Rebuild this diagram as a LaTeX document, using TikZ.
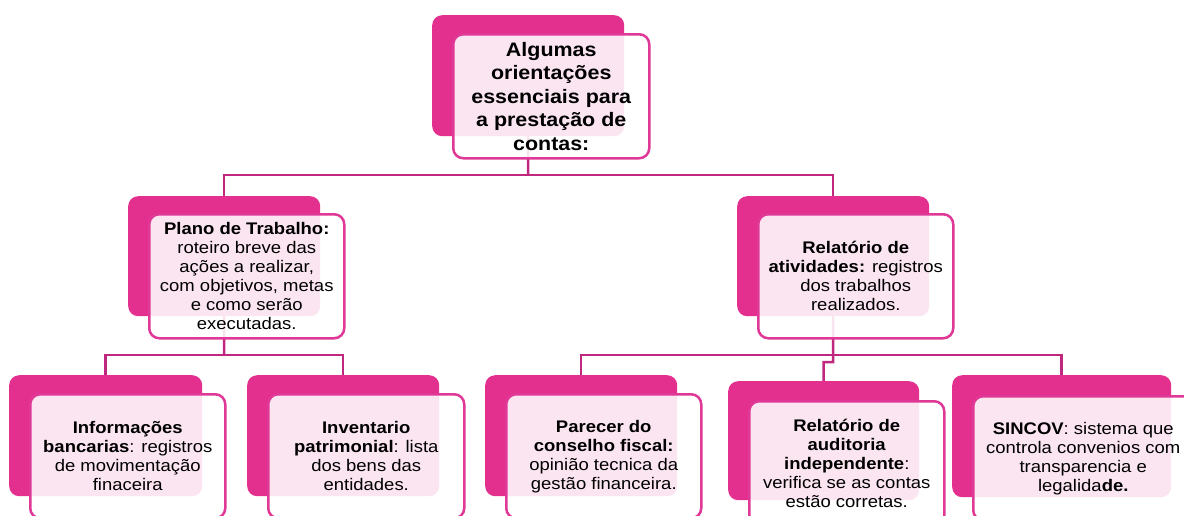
\documentclass[tikz,border=0pt]{standalone}
\usepackage{fontspec}
\setmainfont[FakeStretch=1.1]{Liberation Sans}
\pgfdeclarelayer{bg}
\pgfsetlayers{bg,main}
\definecolor{mag}{RGB}{227,48,143}
\definecolor{edgec}{RGB}{224,56,150}
\definecolor{connc}{RGB}{192,40,128}
\tikzset{
  backbox/.style={draw=none, fill=mag, rounded corners=10pt, anchor=north west, inner sep=0pt},
  frontbox/.style={draw=edgec, line width=2.5pt, fill=white, fill opacity=0.88, text opacity=1,
    rounded corners=10pt, anchor=north west, inner sep=0pt, align=center,
    font=\fontsize{16.8}{19}\selectfont},
  topfont/.style={font=\fontsize{19.5}{23.4}\selectfont\bfseries},
  connline/.style={draw=connc, line width=2.5pt},
}
\begin{document}
\begin{tikzpicture}[x=1pt,y=-1pt]
\path[use as bounding box, clip] (0,0) rectangle (1184,515);
% back boxes
\node[backbox, minimum width=192pt, minimum height=121pt] (b0) at (432,15) {};
\node[backbox, minimum width=192pt, minimum height=120pt] (bp) at (128,196) {};
\node[backbox, minimum width=192pt, minimum height=120pt] (br) at (737,196) {};
\node[backbox, minimum width=193pt, minimum height=121pt] (bi) at (9,375) {};
\node[backbox, minimum width=192pt, minimum height=121pt] (bv) at (247,375) {};
\node[backbox, minimum width=192pt, minimum height=121pt] (bc) at (485,375) {};
\node[backbox, minimum width=191pt, minimum height=119pt] (ba) at (728,381) {};
\node[backbox, minimum width=219pt, minimum height=122pt] (bs) at (952,375) {};
% front boxes
\node[frontbox, topfont, minimum width=196pt, minimum height=124pt] (f0) at (452,33)
  {Algumas\\orientações\\essenciais para\\a prestação de\\contas:};
\node[frontbox, minimum width=195pt, minimum height=124pt] (fp) at (148,213)
  {\textbf{Plano de Trabalho:}\\roteiro breve das\\ações a realizar,\\com objetivos, metas\\e como serão\\executadas.};
\node[frontbox, minimum width=195pt, minimum height=124pt] (fr) at (757,213)
  {\textbf{Relatório de}\\\textbf{atividades:} registros\\dos trabalhos\\realizados.};
\node[frontbox, minimum width=195pt, minimum height=124pt] (fi) at (29,393)
  {\textbf{Informações}\\\textbf{bancarias}: registros\\de movimentação\\finaceira};
\node[frontbox, minimum width=196pt, minimum height=124pt] (fv) at (267,393)
  {\textbf{Inventario}\\\textbf{patrimonial}: lista\\dos bens das\\entidades.};
\node[frontbox, minimum width=195pt, minimum height=124pt] (fc) at (505,393)
  {\textbf{Parecer do}\\\textbf{conselho fiscal:}\\opinião tecnica da\\gestão financeira.};
\node[frontbox, minimum width=195pt, minimum height=124pt] (fa) at (748,400)
  {\textbf{Relatório de}\\\textbf{auditoria}\\\textbf{independente}:\\verifica se as contas\\estão corretas.};
\node[frontbox, minimum width=220pt, minimum height=124pt] (fs) at (972,395)
  {\textbf{SINCOV}: sistema que\\controla convenios com\\transparencia e\\legalida\textbf{de.}};
% connectors
\coordinate (j0) at (528,175);
\coordinate (j1) at (224,355);
\coordinate (j2) at (833,355);
\coordinate (k) at (833,362);
\begin{pgfonlayer}{bg}
\draw[connline] (b0.center) -- (j0);
\draw[connline] (bp.center) -- (bp.center |- j0) -- (br.center |- j0) -- (br.center);
\draw[connline] (bp.center) -- (j1);
\draw[connline] (bi.center) -- (bi.center |- j1) -- (bv.center |- j1) -- (bv.center);
\draw[connline] (br.center) -- (k) -- (ba.center |- k) -- (ba.center);
\draw[connline] (bc.center) -- (bc.center |- j2) -- (bs.center |- j2) -- (bs.center);
\end{pgfonlayer}
\end{tikzpicture}
\end{document}
